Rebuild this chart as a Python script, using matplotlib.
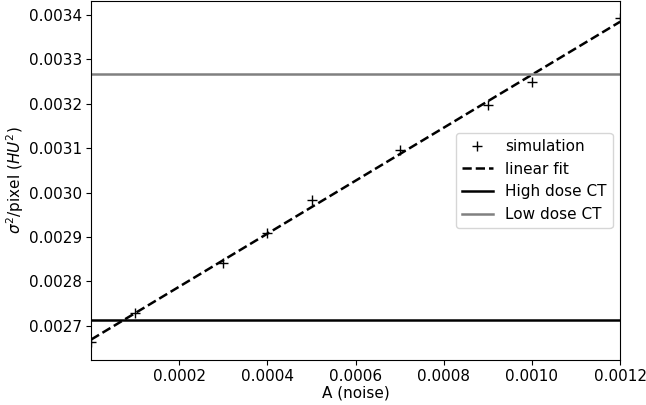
import matplotlib
matplotlib.use("Agg")
import matplotlib.pyplot as plt
import numpy as np

# simulated noise variance vs noise amplitude
A = np.array([0.0, 0.0001, 0.0003, 0.0004, 0.0005, 0.0007, 0.0009, 0.0010, 0.0012])
var = np.array([0.002664, 0.002729, 0.002842, 0.002909, 0.002984, 0.003095, 0.003198, 0.003249, 0.003394])

high_dose = 0.002713
low_dose = 0.003268

p = np.polyfit(A, var, 1)
xfit = np.array([0.0, 0.0012])

plt.rcParams["font.size"] = 11

fig = plt.figure(figsize=(6.46, 4.05), dpi=100)
ax = fig.add_axes([0.141, 0.111, 0.819, 0.887])

ax.plot(A, var, "k+", markersize=7, label="simulation")
ax.plot(xfit, np.polyval(p, xfit), "k--", lw=1.8, label="linear fit")
ax.axhline(high_dose, color="black", lw=1.8, label="High dose CT")
ax.axhline(low_dose, color="gray", lw=1.8, label="Low dose CT")

ax.set_xlim(0, 0.0012)
ax.set_ylim(0.002623, 0.003432)
ax.set_xticks([0.0002, 0.0004, 0.0006, 0.0008, 0.0010, 0.0012])
ax.set_yticks([0.0027, 0.0028, 0.0029, 0.0030, 0.0031, 0.0032, 0.0033, 0.0034])
ax.ticklabel_format(useOffset=False, style="plain")
ax.tick_params(length=3.5, pad=3)
ax.set_xlabel("A (noise)", labelpad=1)
ax.set_ylabel(r"$\sigma^2$/pixel ($HU^2$)", labelpad=2)
ax.legend(loc="center right")

fig.savefig("out.png", dpi=100)
